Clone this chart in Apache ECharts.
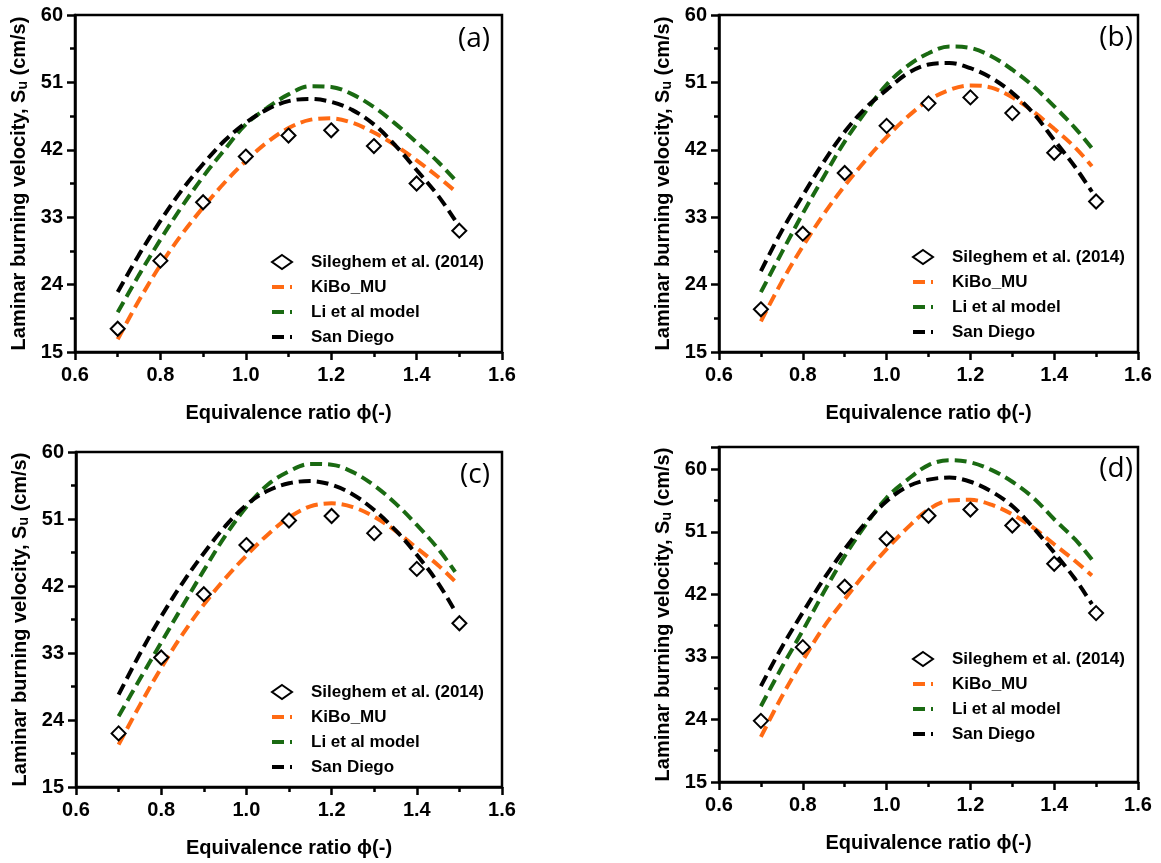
<!DOCTYPE html>
<html>
<head>
<meta charset="utf-8">
<title>Laminar burning velocity vs equivalence ratio</title>
<script src="https://cdn.jsdelivr.net/npm/echarts@6/dist/echarts.min.js"></script>
<style>
  html, body { margin: 0; padding: 0; background: #ffffff; }
  #chart { width: 1161px; height: 863px; }
</style>
</head>
<body>
<div id="chart"></div>
<script>
// Equivalence ratios of the measurements and of the model curves
const PHI_EXP = [0.7, 0.8, 0.9, 1.0, 1.1, 1.2, 1.3, 1.4, 1.5];
const PHI_MODEL = [0.70, 0.75, 0.80, 0.85, 0.90, 0.95, 1.00, 1.05, 1.10, 1.15, 1.20, 1.25, 1.30, 1.35, 1.40, 1.45, 1.49];

const X_TICKS = [0.6, 0.8, 1.0, 1.2, 1.4, 1.6];
const Y_TICKS = [15, 24, 33, 42, 51, 60];

const SERIES_NAMES = ['Sileghem et al. (2014)', 'KiBo_MU', 'Li et al model', 'San Diego'];
const PANEL_TAGS = ['(a)', '(b)', '(c)', '(d)'];

// Panel (a)
const expA  = [18.1, 27.2, 35.0, 41.1, 43.9, 44.6, 42.5, 37.5, 31.2];
const kiboA = [16.7, 21.9, 26.6, 30.7, 34.3, 37.6, 40.5, 43.0, 44.9, 46.0, 46.2, 45.6, 44.3, 42.6, 40.6, 38.4, 36.5];
const liA   = [20.3, 25.3, 30.0, 34.4, 38.4, 42.0, 45.4, 47.6, 49.4, 50.5, 50.4, 49.4, 47.7, 45.5, 43.0, 40.4, 38.0];
const sdA   = [23.0, 28.0, 32.5, 36.6, 40.1, 43.2, 45.6, 47.4, 48.5, 48.8, 48.4, 47.3, 45.4, 42.6, 39.3, 35.9, 32.6];

// Panel (b)
const expB  = [20.7, 30.8, 38.9, 45.2, 48.2, 49.0, 46.9, 41.6, 35.1];
const kiboB = [19.1, 24.4, 29.1, 33.4, 37.2, 40.6, 43.7, 46.4, 48.6, 50.0, 50.6, 50.3, 49.0, 47.1, 44.8, 42.3, 39.8];
const liB   = [23.0, 28.3, 33.5, 38.4, 43.1, 47.1, 50.7, 53.2, 54.9, 55.8, 55.6, 54.5, 52.7, 50.5, 47.8, 44.9, 42.2];
const sdB   = [25.8, 31.2, 35.9, 40.4, 44.4, 47.6, 50.0, 52.2, 53.4, 53.6, 52.9, 51.6, 49.6, 46.9, 43.3, 39.7, 36.4];

// Panel (c)
const expC  = [22.2, 32.4, 40.9, 47.5, 50.8, 51.4, 49.1, 44.3, 37.0];
const kiboC = [20.7, 26.0, 31.0, 35.5, 39.5, 43.0, 46.1, 48.9, 51.2, 52.7, 53.1, 52.6, 51.3, 49.4, 47.1, 44.8, 42.6];
const liC   = [24.5, 29.5, 34.4, 39.3, 44.1, 48.7, 52.6, 55.6, 57.4, 58.4, 58.3, 57.3, 55.5, 53.1, 50.2, 47.0, 43.9];
const sdC   = [27.4, 32.9, 37.9, 42.4, 46.4, 50.0, 52.9, 54.8, 55.8, 56.1, 55.6, 54.3, 52.2, 49.5, 46.2, 42.4, 38.6];

// Panel (d)
const expD  = [23.8, 34.4, 43.1, 50.0, 53.3, 54.2, 51.9, 46.4, 39.3];
const kiboD = [21.5, 27.3, 32.5, 37.3, 41.3, 45.1, 48.5, 51.6, 54.2, 55.5, 55.6, 54.9, 53.5, 51.6, 49.2, 46.8, 44.7];
const liD   = [25.9, 31.5, 36.8, 42.3, 47.5, 52.0, 55.9, 58.5, 60.6, 61.3, 61.0, 59.9, 58.2, 55.9, 52.8, 49.9, 47.0];
const sdD   = [28.8, 34.4, 39.4, 44.2, 48.5, 52.3, 55.4, 57.5, 58.5, 58.8, 58.2, 56.8, 54.7, 51.6, 48.0, 44.2, 40.6];

const PANELS = [
  { exp: expA, kibo: kiboA, li: liA, sd: sdA, yMax: 60 },
  { exp: expB, kibo: kiboB, li: liB, sd: sdB, yMax: 60 },
  { exp: expC, kibo: kiboC, li: liC, sd: sdC, yMax: 60 },
  { exp: expD, kibo: kiboD, li: liD, sd: sdD, yMax: 63.2 }
];

// Layout of the 2 x 2 panels (plot areas in pixels)
const GRIDS = [
  { left: 75,  top: 15,  width: 427, height: 337 },
  { left: 719, top: 15,  width: 419, height: 337 },
  { left: 76,  top: 452, width: 426, height: 335 },
  { left: 719, top: 447, width: 419, height: 335 }
];
const LEGEND_POS = [
  { left: 270, top: 253 },
  { left: 911, top: 248 },
  { left: 270, top: 683 },
  { left: 911, top: 650 }
];
const TAG_POS = [
  { x: 490,  y: 39 },
  { x: 1133, y: 38 },
  { x: 490,  y: 475 },
  { x: 1133, y: 469 }
];

const FONT = '"Liberation Sans", Arial, Helvetica, sans-serif';
const COLORS = { kibo: '#FF6A13', li: '#1A6A12', sd: '#000000' };
const DASH = [12, 6];
const LINE_WIDTH = 4;

function pairs(xs, ys) {
  return xs.map((x, i) => [x, ys[i]]);
}

// Legend entries: the three model curves show only their dashed stroke
const LEGEND_DATA = SERIES_NAMES.map((name, k) => k === 0
  ? { name }
  : { name, itemStyle: { color: 'rgba(0,0,0,0)', borderWidth: 0, opacity: 0 } });

const grid = [], xAxis = [], yAxis = [], series = [], legend = [], graphic = [];

PANELS.forEach((p, i) => {
  grid.push(Object.assign({
    show: true, borderColor: '#000', borderWidth: 2.5, backgroundColor: 'transparent', containLabel: false
  }, GRIDS[i]));

  xAxis.push({
    type: 'value', gridIndex: i,
    min: X_TICKS[0], max: X_TICKS[X_TICKS.length - 1], interval: 0.2,
    name: 'Equivalence ratio \u03d5(-)',
    nameLocation: 'middle', nameGap: 51,
    nameTextStyle: { fontFamily: FONT, fontSize: 20, fontWeight: 'bold', color: '#000' },
    axisLine: { show: true, onZero: false, lineStyle: { color: '#000', width: 2.5 } },
    axisTick: { show: true, length: 8, lineStyle: { color: '#000', width: 2.5 } },
    minorTick: { show: true, splitNumber: 2, length: 5, lineStyle: { color: '#000', width: 2.5 } },
    splitLine: { show: false },
    axisLabel: {
      margin: 13, fontFamily: FONT, fontSize: 20, fontWeight: 'bold', color: '#000',
      formatter: v => v.toFixed(1)
    }
  });

  yAxis.push({
    type: 'value', gridIndex: i,
    min: Y_TICKS[0], max: p.yMax, interval: 9,
    name: 'Laminar burning velocity, S{u|u} (cm/s)',
    nameLocation: 'middle', nameGap: 45,
    nameTextStyle: {
      fontFamily: FONT, fontSize: 20, fontWeight: 'bold', color: '#000',
      rich: { u: { fontFamily: FONT, fontSize: 14, fontWeight: 'bold', color: '#000', padding: [8, 0, 0, 0] } }
    },
    axisLine: { show: true, onZero: false, lineStyle: { color: '#000', width: 2.5 } },
    axisTick: { show: true, length: 8, lineStyle: { color: '#000', width: 2.5 } },
    minorTick: { show: true, splitNumber: 2, length: 5, lineStyle: { color: '#000', width: 2.5 } },
    splitLine: { show: false },
    axisLabel: {
      margin: 12, fontFamily: FONT, fontSize: 20, fontWeight: 'bold', color: '#000',
      showMaxLabel: p.yMax === 60,
      formatter: v => (Y_TICKS.indexOf(Math.round(v * 10) / 10) >= 0 ? String(v) : '')
    }
  });

  const lineCommon = {
    type: 'line', xAxisIndex: i, yAxisIndex: i,
    smooth: 0.35, symbol: 'none', showSymbol: false, z: 2
  };
  series.push(Object.assign({}, lineCommon, {
    name: SERIES_NAMES[1], data: pairs(PHI_MODEL, p.kibo),
    itemStyle: { color: COLORS.kibo },
    lineStyle: { color: COLORS.kibo, width: LINE_WIDTH, type: DASH, cap: 'butt' }
  }));
  series.push(Object.assign({}, lineCommon, {
    name: SERIES_NAMES[2], data: pairs(PHI_MODEL, p.li),
    itemStyle: { color: COLORS.li },
    lineStyle: { color: COLORS.li, width: LINE_WIDTH, type: DASH, cap: 'butt' }
  }));
  series.push(Object.assign({}, lineCommon, {
    name: SERIES_NAMES[3], data: pairs(PHI_MODEL, p.sd),
    itemStyle: { color: COLORS.sd },
    lineStyle: { color: COLORS.sd, width: LINE_WIDTH, type: DASH, cap: 'butt' }
  }));
  series.push({
    type: 'scatter', name: SERIES_NAMES[0], xAxisIndex: i, yAxisIndex: i,
    data: pairs(PHI_EXP, p.exp),
    symbol: 'diamond', symbolSize: 14, z: 5,
    itemStyle: { color: '#ffffff', borderColor: '#000000', borderWidth: 2, opacity: 1 }
  });

  legend.push({
    orient: 'vertical', left: LEGEND_POS[i].left, top: LEGEND_POS[i].top,
    data: LEGEND_DATA, selectedMode: false,
    itemWidth: 20, itemHeight: 14, itemGap: 7, padding: 0,
    lineStyle: { width: LINE_WIDTH },
    textStyle: { fontFamily: FONT, fontSize: 17, fontWeight: 'bold', color: '#000', lineHeight: 18, padding: [0, 0, 0, 14] }
  });

  graphic.push({
    type: 'text', x: TAG_POS[i].x, y: TAG_POS[i].y,
    style: {
      text: PANEL_TAGS[i], fill: '#000', font: '28px "Open Sans", Lato, sans-serif',
      textAlign: 'right', textVerticalAlign: 'middle'
    }
  });
});

const chart = echarts.init(document.getElementById('chart'), null, { renderer: 'canvas' });
chart.setOption({
  backgroundColor: '#ffffff',
  animation: false,
  grid, xAxis, yAxis, series, legend, graphic
});
</script>
</body>
</html>
